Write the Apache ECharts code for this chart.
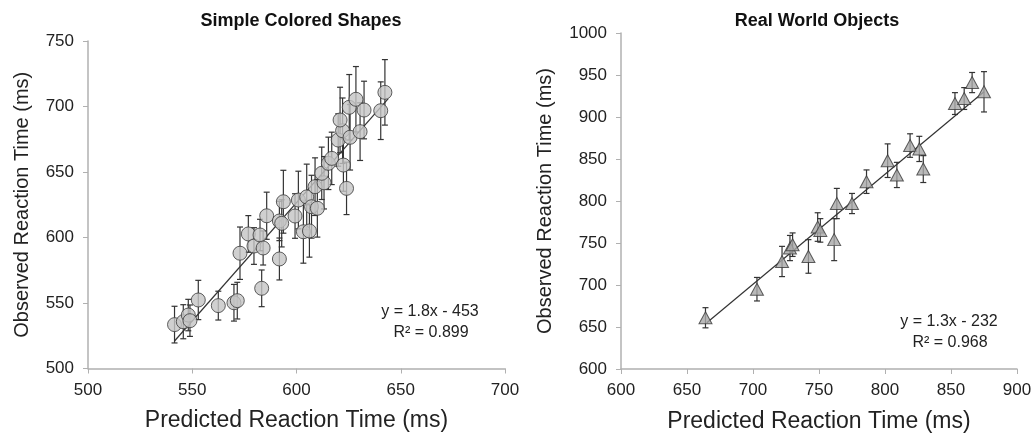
<!DOCTYPE html>
<html>
<head>
<meta charset="utf-8">
<script src="https://cdn.jsdelivr.net/npm/echarts@6/dist/echarts.min.js"></script>
<style>
html,body{margin:0;padding:0;background:#fff;}
#chart{width:1035px;height:438px;}
</style>
</head>
<body>
<div id="chart"></div>
<script>
// Simple Colored Shapes: predicted (x), observed (y), error (+/-)
var shapesPred = [541.5,545.7,548.1,548.9,552.9,562.5,570,571.6,583.3,572.9,576.9,579.6,582.5,584,585.7,591.8,591.8,593.7,592.9,599.3,600.9,603.3,606.2,604.9,607.2,610,608.9,613.2,612.1,615.3,616.9,622.5,624,620,622.1,620.9,625.7,630.5,625.3,628.5,632.4,640.4,642.4];
var shapesObs  = [533.5,535.7,540.8,536.5,552.3,548,550.2,551.8,561.2,588,602.7,593.5,601.9,592,616.6,583.6,612.6,627.3,610.8,616.4,628.6,604.4,605,631,623.5,622.3,638.8,641.8,649,656.6,660.4,655.3,637.5,674.4,681.5,689.7,676.5,680.8,699.4,705.5,697.3,696.8,710.8];
var shapesErr  = [14,13,12,12,15,11,14,14,14,20,14,14,12,13,18,16,15,24,18,17,22,24,20,25,24,22,22,20,20,20,20,20,20,20,25,25,25,22,25,25,22,22,25];
var shapesTrendX = [541.5, 644];
var shapesTrendY = [521, 706];

// Real World Objects
var objectsPred = [664,703,722,728,730,742,749,751,761.5,763.5,775,786,802,809,819,826,829,853,860,866,875];
var objectsObs  = [661,695,728,744,748,734,769,765,754,797,797,823,848,831,866,862,838,916,922,941,930];
var objectsErr  = [12,14,18,15,14,20,17,14,25,18,12,14,20,15,14,15,16,13,13,12,24];
var objectsTrendX = [665, 875];
var objectsTrendY = [655, 930];

var xTicksLeft = [500, 700, 50];
var yTicksLeft = [500, 750, 50];
var xTicksRight = [600, 900, 50];
var yTicksRight = [600, 1000, 50];

var FONT = 'Liberation Sans, Arial, sans-serif';

function zip3(a,b,c){ return a.map(function(v,i){ return [v,b[i],c[i]]; }); }
function zip2(a,b){ return a.map(function(v,i){ return [v,b[i]]; }); }

function errRender(params, api){
  var x = api.value(0), y = api.value(1), e = api.value(2);
  var top = api.coord([x, y + e]);
  var bot = api.coord([x, y - e]);
  var cw = 3;
  var st = {stroke:'#333', lineWidth:1.2};
  return {type:'group', children:[
    {type:'line', shape:{x1:top[0],y1:top[1],x2:bot[0],y2:bot[1]}, style:st},
    {type:'line', shape:{x1:top[0]-cw,y1:top[1],x2:top[0]+cw,y2:top[1]}, style:st},
    {type:'line', shape:{x1:bot[0]-cw,y1:bot[1],x2:bot[0]+cw,y2:bot[1]}, style:st}
  ]};
}

function plain(v){ return String(v); }

function xAxis(idx, t){
  return {type:'value', gridIndex:idx, min:t[0], max:t[1], interval:t[2],
    name:'Predicted Reaction Time (ms)', nameLocation:'middle', nameGap:41,
    nameTextStyle:{fontSize:23, color:'#222', fontFamily:FONT},
    axisLine:{show:true, onZero:false, lineStyle:{color:'#b0b0b0', width:1.5}},
    axisTick:{show:true, length:5, lineStyle:{color:'#b0b0b0'}},
    axisLabel:{fontSize:17, color:'#222', margin:13, fontFamily:FONT, formatter:plain},
    splitLine:{show:false}};
}
function yAxis(idx, t, gap){
  return {type:'value', gridIndex:idx, min:t[0], max:t[1], interval:t[2],
    name:'Observed Reaction Time (ms)', nameLocation:'middle', nameGap:gap,
    nameTextStyle:{fontSize:20, color:'#222', fontFamily:FONT},
    axisLine:{show:true, onZero:false, lineStyle:{color:'#b0b0b0', width:1.5}},
    axisTick:{show:true, length:5, lineStyle:{color:'#b0b0b0'}},
    axisLabel:{fontSize:17, color:'#222', margin:14, fontFamily:FONT, formatter:plain},
    splitLine:{show:false}};
}

var chart = echarts.init(document.getElementById('chart'), null, {renderer:'canvas'});
chart.setOption({
  animation:false,
  backgroundColor:'#fff',
  title:[
    {text:'Simple Colored Shapes', left:296, top:7, textAlign:'center',
     textStyle:{fontSize:18, fontWeight:'bold', color:'#111', fontFamily:FONT}},
    {text:'Real World Objects', left:812, top:7, textAlign:'center',
     textStyle:{fontSize:18, fontWeight:'bold', color:'#111', fontFamily:FONT}}
  ],
  grid:[
    {left:88, right:530, top:41, bottom:69.5},
    {left:621, right:18, top:33, bottom:69}
  ],
  xAxis:[xAxis(0, xTicksLeft), xAxis(1, xTicksRight)],
  yAxis:[yAxis(0, yTicksLeft, 56), yAxis(1, yTicksRight, 66)],
  graphic:[
    {type:'text', x:430, y:312, style:{text:'y = 1.8x - 453', fill:'#222', font:'16px '+FONT, align:'center', verticalAlign:'middle'}},
    {type:'text', x:431, y:333, style:{text:'R\u00b2 = 0.899', fill:'#222', font:'16px '+FONT, align:'center', verticalAlign:'middle'}},
    {type:'text', x:949, y:322, style:{text:'y = 1.3x - 232', fill:'#222', font:'16px '+FONT, align:'center', verticalAlign:'middle'}},
    {type:'text', x:950, y:343, style:{text:'R\u00b2 = 0.968', fill:'#222', font:'16px '+FONT, align:'center', verticalAlign:'middle'}}
  ],
  series:[
    {type:'line', xAxisIndex:0, yAxisIndex:0, data:zip2(shapesTrendX, shapesTrendY), symbol:'none',
     lineStyle:{color:'#333', width:1.2}, z:1},
    {type:'custom', xAxisIndex:0, yAxisIndex:0, data:zip3(shapesPred, shapesObs, shapesErr),
     renderItem:errRender, z:2},
    {type:'scatter', xAxisIndex:0, yAxisIndex:0, data:zip2(shapesPred, shapesObs), symbol:'circle', symbolSize:14,
     itemStyle:{color:'#c4c4c4', borderColor:'#3a3a3a', borderWidth:1}, z:3},
    {type:'line', xAxisIndex:1, yAxisIndex:1, data:zip2(objectsTrendX, objectsTrendY), symbol:'none',
     lineStyle:{color:'#333', width:1.2}, z:1},
    {type:'custom', xAxisIndex:1, yAxisIndex:1, data:zip3(objectsPred, objectsObs, objectsErr),
     renderItem:errRender, z:2},
    {type:'scatter', xAxisIndex:1, yAxisIndex:1, data:zip2(objectsPred, objectsObs), symbol:'triangle', symbolSize:[13,12],
     itemStyle:{color:'#a8a8a8', borderColor:'#3a3a3a', borderWidth:1}, z:3}
  ]
});
</script>
</body>
</html>
